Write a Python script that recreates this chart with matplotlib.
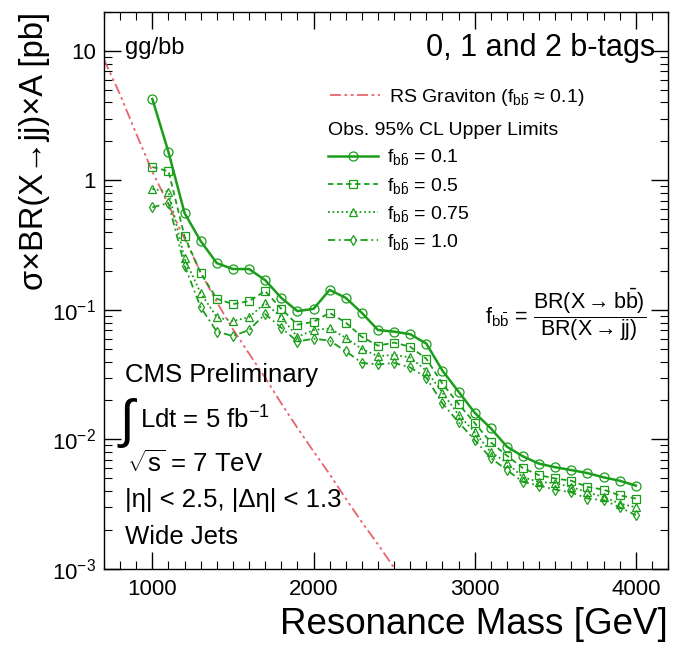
import matplotlib
matplotlib.use("Agg")
import matplotlib.pyplot as plt
from matplotlib.ticker import MultipleLocator, LogLocator, NullFormatter

plt.rcParams["font.family"] = ["Liberation Sans", "DejaVu Sans"]
plt.rcParams["mathtext.fontset"] = "custom"
plt.rcParams["mathtext.rm"] = "Liberation Sans"
plt.rcParams["mathtext.it"] = "Liberation Sans"
plt.rcParams["mathtext.bf"] = "Liberation Sans:bold"
plt.rcParams["mathtext.default"] = "regular"

# Resonance masses [GeV]
mass = [1000, 1100, 1200, 1300, 1400, 1500, 1600, 1700, 1800, 1900, 2000,
        2100, 2200, 2300, 2400, 2500, 2600, 2700, 2800, 2900, 3000,
        3100, 3200, 3300, 3400, 3500, 3600, 3700, 3800, 3900, 4000]

# Observed 95% CL upper limits [pb] for each f_bb
lim_f01 = [4.26, 1.66, 0.56, 0.34, 0.23, 0.207, 0.207, 0.17, 0.124, 0.098, 0.102,
           0.143, 0.124, 0.095, 0.070, 0.068, 0.065, 0.055, 0.034, 0.0234, 0.0161,
           0.0122, 0.0088, 0.0074, 0.0065, 0.0061, 0.0058, 0.0055, 0.0051, 0.0048, 0.0044]
lim_f05 = [1.27, 1.18, 0.37, 0.193, 0.122, 0.111, 0.117, 0.140, 0.102, 0.077, 0.081,
           0.095, 0.080, 0.062, 0.053, 0.056, 0.052, 0.042, 0.027, 0.0188, 0.0134,
           0.0095, 0.0075, 0.0060, 0.0053, 0.0050, 0.0048, 0.0043, 0.0041, 0.0037, 0.0035]
lim_f075 = [0.86, 0.82, 0.25, 0.135, 0.088, 0.082, 0.088, 0.113, 0.088, 0.062, 0.070,
            0.072, 0.061, 0.050, 0.044, 0.045, 0.043, 0.034, 0.023, 0.0155, 0.0114,
            0.0080, 0.0066, 0.0051, 0.0047, 0.0046, 0.0043, 0.0039, 0.0036, 0.0032, 0.0030]
lim_f10 = [0.62, 0.67, 0.22, 0.105, 0.068, 0.063, 0.070, 0.093, 0.073, 0.057, 0.060,
           0.058, 0.048, 0.039, 0.038, 0.039, 0.036, 0.030, 0.019, 0.0136, 0.0099,
           0.0072, 0.0058, 0.0047, 0.0044, 0.0041, 0.0039, 0.0035, 0.0034, 0.0030, 0.0026]

# RS graviton prediction
rs_mass = [700, 800, 900, 1000, 1100, 1200, 1300, 1400, 1500, 1600, 1700,
           1800, 1900, 2000, 2100, 2200, 2300, 2400, 2500, 2600]
rs_xsec = [8.6, 4.6, 2.3, 1.17, 0.65, 0.355, 0.195, 0.115, 0.071, 0.046, 0.030,
           0.019, 0.0123, 0.0081, 0.0054, 0.0035, 0.0023, 0.00155, 0.00102, 0.00068]

green = "#1a9e1a"
red = "#e8646c"

fig = plt.figure(figsize=(6.81, 6.51), dpi=100)
ax = fig.add_axes([0.1527, 0.126, 0.981 - 0.1527, 0.9816 - 0.126])

rs_line, = ax.plot(rs_mass, rs_xsec, color=red, lw=1.3,
                   ls=(0, (6, 2, 1.5, 2, 1.5, 2)))

mk = dict(markerfacecolor="none", markeredgewidth=0.9, color=green)
l1, = ax.plot(mass, lim_f01, ls="-", lw=1.8, marker="o", ms=6.5, **mk)
l2, = ax.plot(mass, lim_f05, ls=(0, (3, 2)), lw=1.3, marker="s", ms=6, **mk)
l3, = ax.plot(mass, lim_f075, ls=(0, (1, 1.5)), lw=1.3, marker="^", ms=6, **mk)
l4, = ax.plot(mass, lim_f10, ls=(0, (4, 2, 1, 2)), lw=1.3, marker="d", ms=5.5, **mk)

ax.set_yscale("log")
ax.set_xlim(700, 4200)
ax.set_ylim(1e-3, 20)

ax.set_xticks([1000, 2000, 3000, 4000])
ax.xaxis.set_minor_locator(MultipleLocator(100))
ax.set_yticks([1e-3, 1e-2, 1e-1, 1, 10])
ax.set_yticklabels(["$10^{-3}$", "$10^{-2}$", "$10^{-1}$", "1", "10"])
ax.yaxis.set_minor_locator(LogLocator(base=10, subs=range(2, 10)))
ax.yaxis.set_minor_formatter(NullFormatter())

ax.tick_params(which="both", direction="in", top=True, right=True, labelsize=16)
ax.tick_params(which="major", length=12, width=1)
ax.tick_params(which="minor", length=6, width=0.8)
ax.tick_params(axis="x", pad=7)
ax.tick_params(axis="y", pad=6)
for sp in ax.spines.values():
    sp.set_linewidth(1)

# legends
leg1 = ax.legend([rs_line], [r"RS Graviton (f$_{b\bar{b}}$ ≈ 0.1)"],
                 loc="upper left", bbox_to_anchor=(0.40, 0.865), frameon=False,
                 fontsize=14, handlelength=2.6, handletextpad=0.45, borderpad=0,
                 borderaxespad=0)
ax.add_artist(leg1)
leg2 = ax.legend([l1, l2, l3, l4],
                 [r"f$_{b\bar{b}}$ = 0.1", r"f$_{b\bar{b}}$ = 0.5",
                  r"f$_{b\bar{b}}$ = 0.75", r"f$_{b\bar{b}}$ = 1.0"],
                 title="Obs. 95% CL Upper Limits", title_fontsize=14,
                 alignment="left", loc="upper left", bbox_to_anchor=(0.397, 0.802),
                 frameon=False, fontsize=14, handlelength=2.6, handletextpad=0.45,
                 labelspacing=0.42, borderpad=0, borderaxespad=0)

ax.text(0.037, 0.935, "gg/bb", transform=ax.transAxes, fontsize=17,
        ha="left", va="center")
ax.text(0.977, 0.935, "0, 1 and 2 b-tags", transform=ax.transAxes, fontsize=22,
        ha="right", va="center")
ax.text(0.962, 0.456,
        r"f$_{b\bar{b}}$ = $\dfrac{BR(X\rightarrow b\bar{b})}{BR(X\rightarrow jj)}$",
        transform=ax.transAxes, fontsize=15.5, ha="right", va="center")

ax.text(0.037, 0.348, "CMS Preliminary", transform=ax.transAxes, fontsize=18.5,
        ha="left", va="center")
ax.text(0.028, 0.262, "∫", transform=ax.transAxes, fontsize=38,
        ha="left", va="center")
ax.text(0.064, 0.2675, "Ldt = 5 fb$^{-1}$", transform=ax.transAxes, fontsize=18.5,
        ha="left", va="center")
ax.text(0.040, 0.19, r"$\sqrt{s}$ = 7 TeV", transform=ax.transAxes, fontsize=18.5,
        ha="left", va="center")
ax.text(0.037, 0.124, "|η| < 2.5, |Δη| < 1.3", transform=ax.transAxes, fontsize=18.5,
        ha="left", va="center")
ax.text(0.037, 0.057, "Wide Jets", transform=ax.transAxes, fontsize=18.5,
        ha="left", va="center")

fig.text(35 / 681, 1 - 12 / 651, "σ×BR(X→jj)×A [pb]", rotation=90, fontsize=23.5,
         ha="center", va="top")
fig.text(668 / 681, 1 - 625 / 651, "Resonance Mass [GeV]", fontsize=26.5,
         ha="right", va="center")

fig.savefig("out.png", dpi=100)
